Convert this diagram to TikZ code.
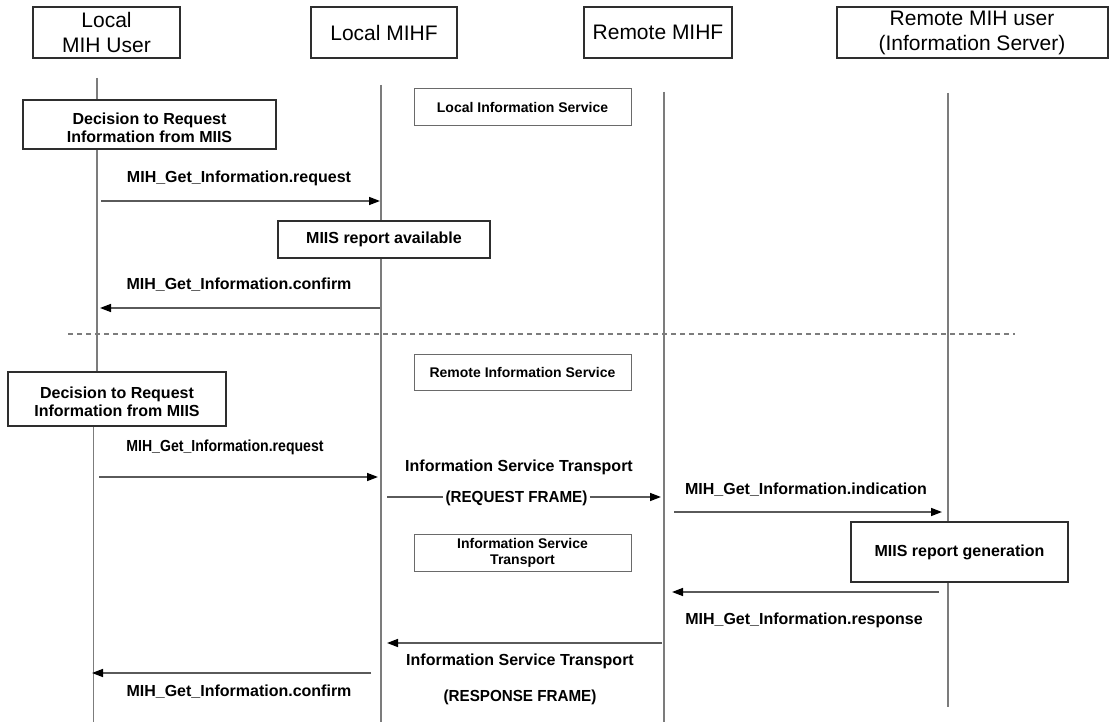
\documentclass[tikz,border=0pt]{standalone}
\usepackage{fontspec}
\setmainfont{Liberation Sans}
\usepackage{graphicx}
\usetikzlibrary{arrows.meta}

\definecolor{lifegray}{HTML}{7C7C7C}
\definecolor{arrowgray}{HTML}{5A5A5A}
\definecolor{boxdark}{HTML}{2E2E2E}
\definecolor{boxlight}{HTML}{6A6A6A}

% horizontally narrowed text
\newcommand\narrowtxt[2]{\scalebox{#1}[1]{#2}}
% strut that lowers a two-line box text a little
\newcommand\topstrut{\rule{0pt}{17.5pt}}

\begin{document}
\begin{tikzpicture}[x=1pt,y=-1pt,
  lifeline/.style={draw=lifegray,line width=1.8pt},
  header/.style={draw=boxdark,line width=2pt,fill=white,inner sep=0pt,
    align=center,font=\fontsize{21}{25}\selectfont},
  bigbox/.style={draw=boxdark,line width=2pt,fill=white,inner sep=0pt,
    align=center,font=\fontsize{16}{18}\selectfont\bfseries},
  smallbox/.style={draw=boxlight,line width=1pt,fill=white,inner sep=0pt,
    align=center,font=\fontsize{14}{16}\selectfont\bfseries},
  lbl/.style={inner sep=1pt,font=\fontsize{16}{18}\selectfont\bfseries,anchor=base},
  msg/.style={draw=arrowgray,line width=1.5pt,
    -{Triangle[length=11pt,width=8pt,color=black]}},
  plainmsg/.style={draw=arrowgray,line width=1.5pt},
  separator/.style={draw=lifegray,line width=1.5pt,dash pattern=on 5pt off 4pt}
]
\fill[white] (0,0) rectangle (1109,722);
\useasboundingbox (0,0) rectangle (1109,722);

% lifeline end points
\coordinate (uTop) at (97,78);
\coordinate (uMid) at (97,372);
\coordinate (uLow) at (93.5,426);
\coordinate (uBot) at (93.5,722);
\coordinate (lTop) at (381,85);
\coordinate (lBot) at (381,722);
\coordinate (rTop) at (664,92);
\coordinate (rBot) at (664,722);
\coordinate (sTop) at (948,93);
\coordinate (sBot) at (948,707);

\draw[lifeline] (uTop) -- (uMid);
\draw[lifeline] (uLow) -- (uBot);
\draw[lifeline] (lTop) -- (lBot);
\draw[lifeline] (rTop) -- (rBot);
\draw[lifeline] (sTop) -- (sBot);

% participants
\node[header,minimum width=147,minimum height=51] (hUser) at (106.5,32.5) {Local\\MIH User};
\node[header,minimum width=146,minimum height=51] (hLocal) at (384,32.5) {Local MIHF};
\node[header,minimum width=148,minimum height=51] (hRemote) at (658,32.5) {Remote MIHF};
\node[header,minimum width=271,minimum height=51] (hServer) at (972,32.5) {Remote MIH user\\(Information Server)};

% local information service
\node[smallbox,minimum width=217,minimum height=37] (lis) at (522.5,107.5) {Local Information Service};
\node[bigbox,minimum width=253,minimum height=49] (dec1) at (149.5,124.5) {\topstrut Decision to Request\\Information from MIIS};

\coordinate (a1s) at (101,201);
\coordinate (a1e) at (380,201);
\draw[msg] (a1s) -- (a1e);
\node[lbl] (a1l) at (239,183) {MIH\_Get\_Information.request};

\node[bigbox,minimum width=212,minimum height=37,line width=1.8pt] (avail) at (384,239.5) {MIIS report available};

\coordinate (a2s) at (380,308);
\coordinate (a2e) at (100,308);
\draw[msg] (a2s) -- (a2e);
\node[lbl] (a2l) at (239,290) {MIH\_Get\_Information.confirm};

% separator
\coordinate (sepL) at (68,334);
\coordinate (sepR) at (1015,334);
\draw[separator] (sepL) -- (sepR);

% remote information service
\node[smallbox,minimum width=217,minimum height=36] (ris) at (522.5,372) {Remote Information Service};
\node[bigbox,minimum width=218,minimum height=54] (dec2) at (117,399) {\topstrut Decision to Request\\Information from MIIS};

\node[lbl] (a3l) at (225,451) {\narrowtxt{0.88}{MIH\_Get\_Information.request}};
\coordinate (a3s) at (99,477);
\coordinate (a3e) at (378,477);
\draw[msg] (a3s) -- (a3e);

\node[lbl] (ist1) at (519,471) {Information Service Transport};
\node[inner sep=2pt,font=\fontsize{16}{18}\selectfont\bfseries] (reqf) at (516.5,498) {\narrowtxt{0.95}{(REQUEST FRAME)}};
\coordinate (rqs) at (387,497);
\coordinate (rqe) at (661,497);
\draw[plainmsg] (rqs) -- (rqs -| reqf.west);
\draw[msg] (rqe -| reqf.east) -- (rqe);

\node[lbl] (a4l) at (806,494) {MIH\_Get\_Information.indication};
\coordinate (a4s) at (674,512);
\coordinate (a4e) at (942,512);
\draw[msg] (a4s) -- (a4e);

\node[smallbox,minimum width=217,minimum height=37] (istbox) at (522.5,552.5) {Information Service\\Transport};
\node[bigbox,minimum width=217,minimum height=60] (gen) at (959.5,552) {MIIS report generation};

\coordinate (a5s) at (939,592);
\coordinate (a5e) at (672,592);
\draw[msg] (a5s) -- (a5e);
\node[lbl] (a5l) at (804,624) {MIH\_Get\_Information.response};

\coordinate (a6s) at (662,643);
\coordinate (a6e) at (387,643);
\draw[msg] (a6s) -- (a6e);
\node[lbl] (ist2) at (520,665) {Information Service Transport};

\coordinate (a7s) at (371,673);
\coordinate (a7e) at (92,673);
\draw[msg] (a7s) -- (a7e);
\node[lbl] (a7l) at (239,696) {MIH\_Get\_Information.confirm};

\node[lbl] (resf) at (520,701) {\narrowtxt{0.95}{(RESPONSE FRAME)}};
\end{tikzpicture}
\end{document}
